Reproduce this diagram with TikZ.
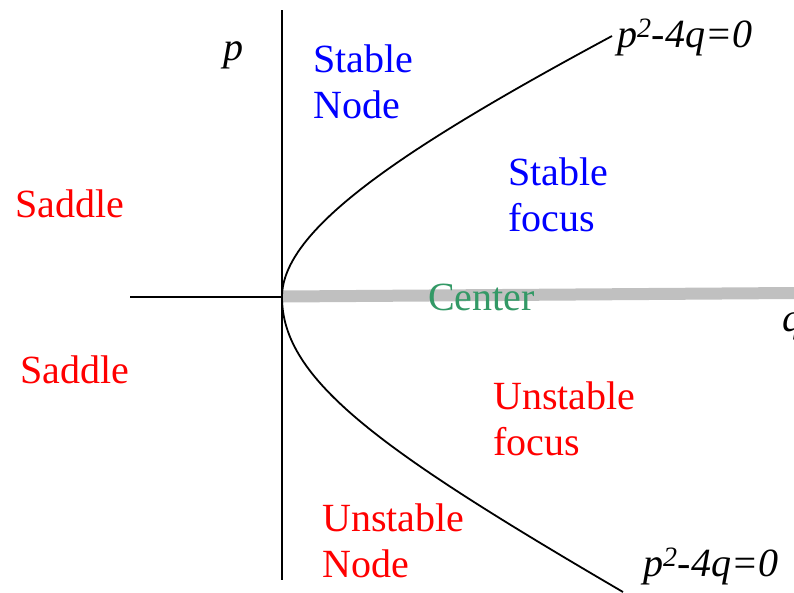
\documentclass[tikz,border=0pt]{standalone}
\usepackage{fontspec}
\setmainfont{Liberation Serif}
\usepackage{xcolor}
\definecolor{phblue}{RGB}{0,0,255}
\definecolor{phred}{RGB}{255,0,0}
\definecolor{phgreen}{RGB}{51,153,102}
\definecolor{phgray}{RGB}{192,192,192}
\usetikzlibrary{positioning}
\tikzset{
  region/.style={font=\fontsize{40}{46}\selectfont, inner sep=0pt, align=left, anchor=base west},
  axisline/.style={black, line width=1.8pt},
}

\begin{document}
\begin{tikzpicture}[x=1pt, y=-1pt]
  \useasboundingbox (0,0) rectangle (794,592);
  \coordinate (origin) at (282,297);

  % Center line
  \draw[phgray, line width=12pt] (origin) ++(0,-0.5) -- (794,293);

  % Axes
  \draw[axisline] (282,10) -- (282,580);
  \draw[axisline] (130,297) -- (origin);
  \node[region, font=\fontsize{40}{46}\selectfont\itshape] (plabel) at (223,60) {p};
  \node[region, font=\fontsize{40}{46}\selectfont\itshape] (qlabel) at (782,331) {q};

  % Parabola p^2-4q=0
  \draw[axisline] (origin) .. controls (282,230) and (400,150) .. (612,36);
  \draw[axisline] (origin) .. controls (282,380) and (380,450) .. (623,592);
  \node[region, font=\fontsize{40}{46}\selectfont\itshape] (uppercurve) at (617,47) {p\textsuperscript{2}-4q=0};
  \node[region, font=\fontsize{40}{46}\selectfont\itshape] (lowercurve) at (643,576) {p\textsuperscript{2}-4q=0};

  % Regions (base = last line)
  \node[region, text=phblue] (stablenode) at (313,118) {Stable\\Node};
  \node[region, text=phblue] (stablefocus) at (508,231) {Stable\\focus};
  \node[region, text=phred] (saddleup) at (15,217) {Saddle};
  \node[region, text=phred] (saddledown) at (20,383) {Saddle};
  \node[region, text=phgreen] (center) at (428,310) {Center};
  \node[region, text=phred] (unstablefocus) at (493,455) {Unstable\\focus};
  \node[region, text=phred] (unstablenode) at (322,577) {Unstable\\Node};
\end{tikzpicture}
\end{document}
